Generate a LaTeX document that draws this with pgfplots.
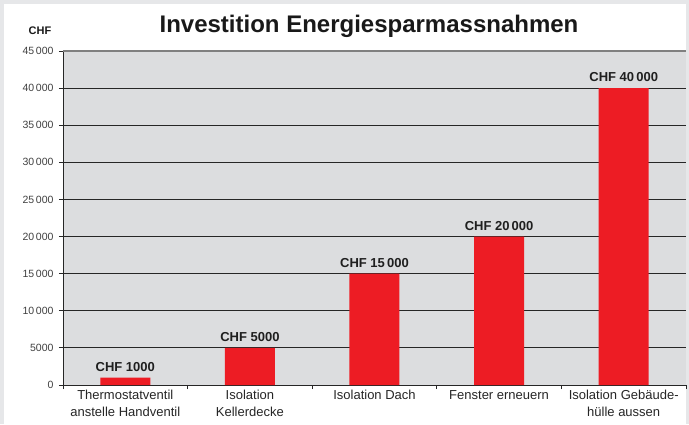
\documentclass[border=0pt]{standalone}
\usepackage{pgfplots}
\pgfplotsset{compat=1.18}
\usepackage{fontspec}
\setmainfont{Liberation Sans}
\definecolor{outergray}{HTML}{E6E7E9}
\definecolor{plotbg}{HTML}{DCDDDF}
\definecolor{barred}{HTML}{ED1C24}
\begin{document}
\begin{tikzpicture}[x=1pt,y=1pt]
\fill[outergray] (0,0) rectangle (689,424);
\fill[white] (4,0) rectangle (686,420);
\useasboundingbox (0,0) rectangle (689,424);
\node[font=\fontsize{24}{28}\selectfont\bfseries, text=black!90] at (369,397.5) {Investition Energiesparmassnahmen};
\node[font=\fontsize{11}{13}\selectfont\bfseries, text=black!90] at (40,393) {CHF};
\begin{axis}[
  at={(63pt,39pt)}, anchor=south west,
  scale only axis, width=623pt, height=334pt,
  ymin=0, ymax=45000, xmin=-0.5, xmax=4.5,
  scaled y ticks=false,
  axis x line*=bottom, axis y line*=left,
  axis line style={black!85, line width=0.9pt},
  axis background/.style={fill=plotbg},
  tick align=outside,
  major tick length=4pt,
  tick style={black!85, line width=0.8pt},
  ytick={0,5000,10000,15000,20000,25000,30000,35000,40000},
  yticklabels={0,5000,10\,000,15\,000,20\,000,25\,000,30\,000,35\,000,40\,000},
  extra y ticks={45000},
  extra y tick labels={45\,000},
  extra y tick style={grid style={black!50, line width=1.3pt}},
  ymajorgrids,
  grid style={black!85, line width=0.9pt},
  yticklabel style={font=\fontsize{10.5}{12}\selectfont, text=black!75, xshift=-2pt},
  xtick={-0.5,0.5,1.5,2.5,3.5,4.5},
  xticklabels={},
  extra x ticks={0,1,2,3,4},
  extra x tick labels={Thermostatventil\\anstelle Handventil, Isolation\\Kellerdecke, Isolation Dach, Fenster erneuern, Isolation Gebäude-\\hülle aussen},
  extra x tick style={major tick length=0pt, xmajorgrids=false},
  xticklabel style={font=\fontsize{13}{17}\selectfont, text=black!85, align=center, anchor=north, yshift=-2pt},
  point meta=explicit symbolic,
  nodes near coords,
  every node near coord/.append style={font=\fontsize{13}{15}\selectfont\bfseries, text=black!88, anchor=south, yshift=2.5pt},
]
\addplot[ybar, bar width=50pt, fill=barred, draw=none] coordinates {
  (0,1000) [CHF 1000]
  (1,5000) [CHF 5000]
  (2,15000) [CHF 15\,000]
  (3,20000) [CHF 20\,000]
  (4,40000) [CHF 40\,000]
};
\end{axis}
\end{tikzpicture}
\end{document}
